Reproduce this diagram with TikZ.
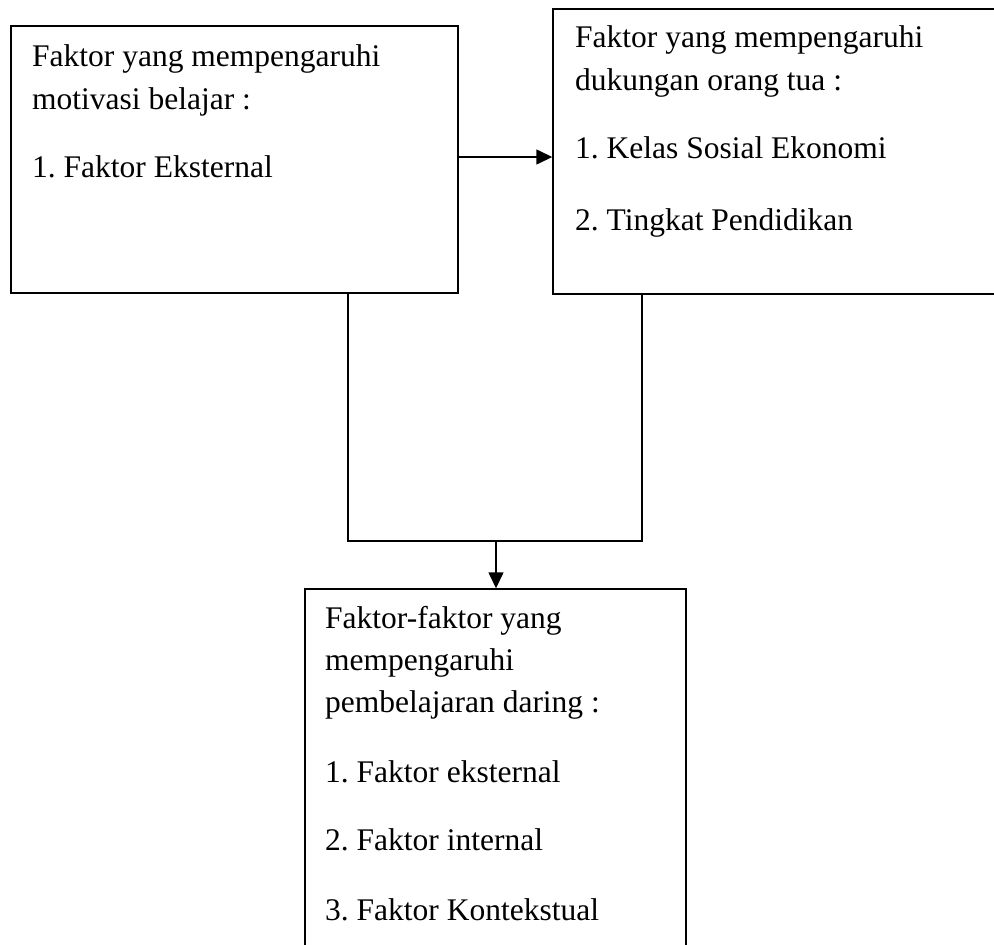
\documentclass[tikz,border=0pt]{standalone}
\usepackage{fontspec}
\setmainfont{Liberation Serif}
\usetikzlibrary{arrows.meta}
\frenchspacing
\begin{document}
\begin{tikzpicture}[x=1pt,y=-1pt,
  box/.style={draw,line width=1.4pt,rectangle,inner sep=0pt},
  txt/.style={anchor=base west,inner sep=0pt,font=\fontsize{31.5}{43}\selectfont},
  conn/.style={line width=1.4pt},
  arr/.style={line width=1.4pt,-{Triangle[length=16pt,width=15pt]}}]
\useasboundingbox (0,0) rectangle (994,945);
\clip (0,0) rectangle (994,945);
% boxes
\node[box,minimum width=447pt,minimum height=267pt] (b1) at (234.5,159.5) {};
\node[box,minimum width=457pt,minimum height=285pt] (b2) at (781.5,151.5) {};
\node[box,minimum width=381pt,minimum height=371pt] (b3) at (495.5,774.5) {};
% texts box 1
\node[txt] (t11) at (32,66) {Faktor yang mempengaruhi};
\node[txt] (t12) at (32,109) {motivasi belajar :};
\node[txt] (t13) at (32,177) {1. Faktor Eksternal};
% texts box 2
\node[txt] (t21) at (575,47) {Faktor yang mempengaruhi};
\node[txt] (t22) at (575,90) {dukungan orang tua :};
\node[txt] (t23) at (575,158) {1. Kelas Sosial Ekonomi};
\node[txt] (t24) at (575,230) {2. Tingkat Pendidikan};
% texts box 3
\node[txt] (t31) at (325,628) {Faktor-faktor yang};
\node[txt] (t32) at (325,670) {mempengaruhi};
\node[txt] (t33) at (325,712) {pembelajaran daring :};
\node[txt] (t34) at (325,782) {1. Faktor eksternal};
\node[txt] (t35) at (325,850) {2. Faktor internal};
\node[txt] (t36) at (325,920) {3. Faktor Kontekstual};
% connector helpers
\coordinate (ay) at (0,157);
\coordinate (j1) at (348,541);
\coordinate (j2) at (642,541);
\coordinate (jm) at (496,541);
\draw[arr] (b1.east |- ay) -- (b2.west |- ay);
\draw[conn] (b1.south -| j1) -- (j1) -- (j2) -- (b2.south -| j2);
\draw[arr] (jm) -- (b3.north -| jm);
\end{tikzpicture}
\end{document}
